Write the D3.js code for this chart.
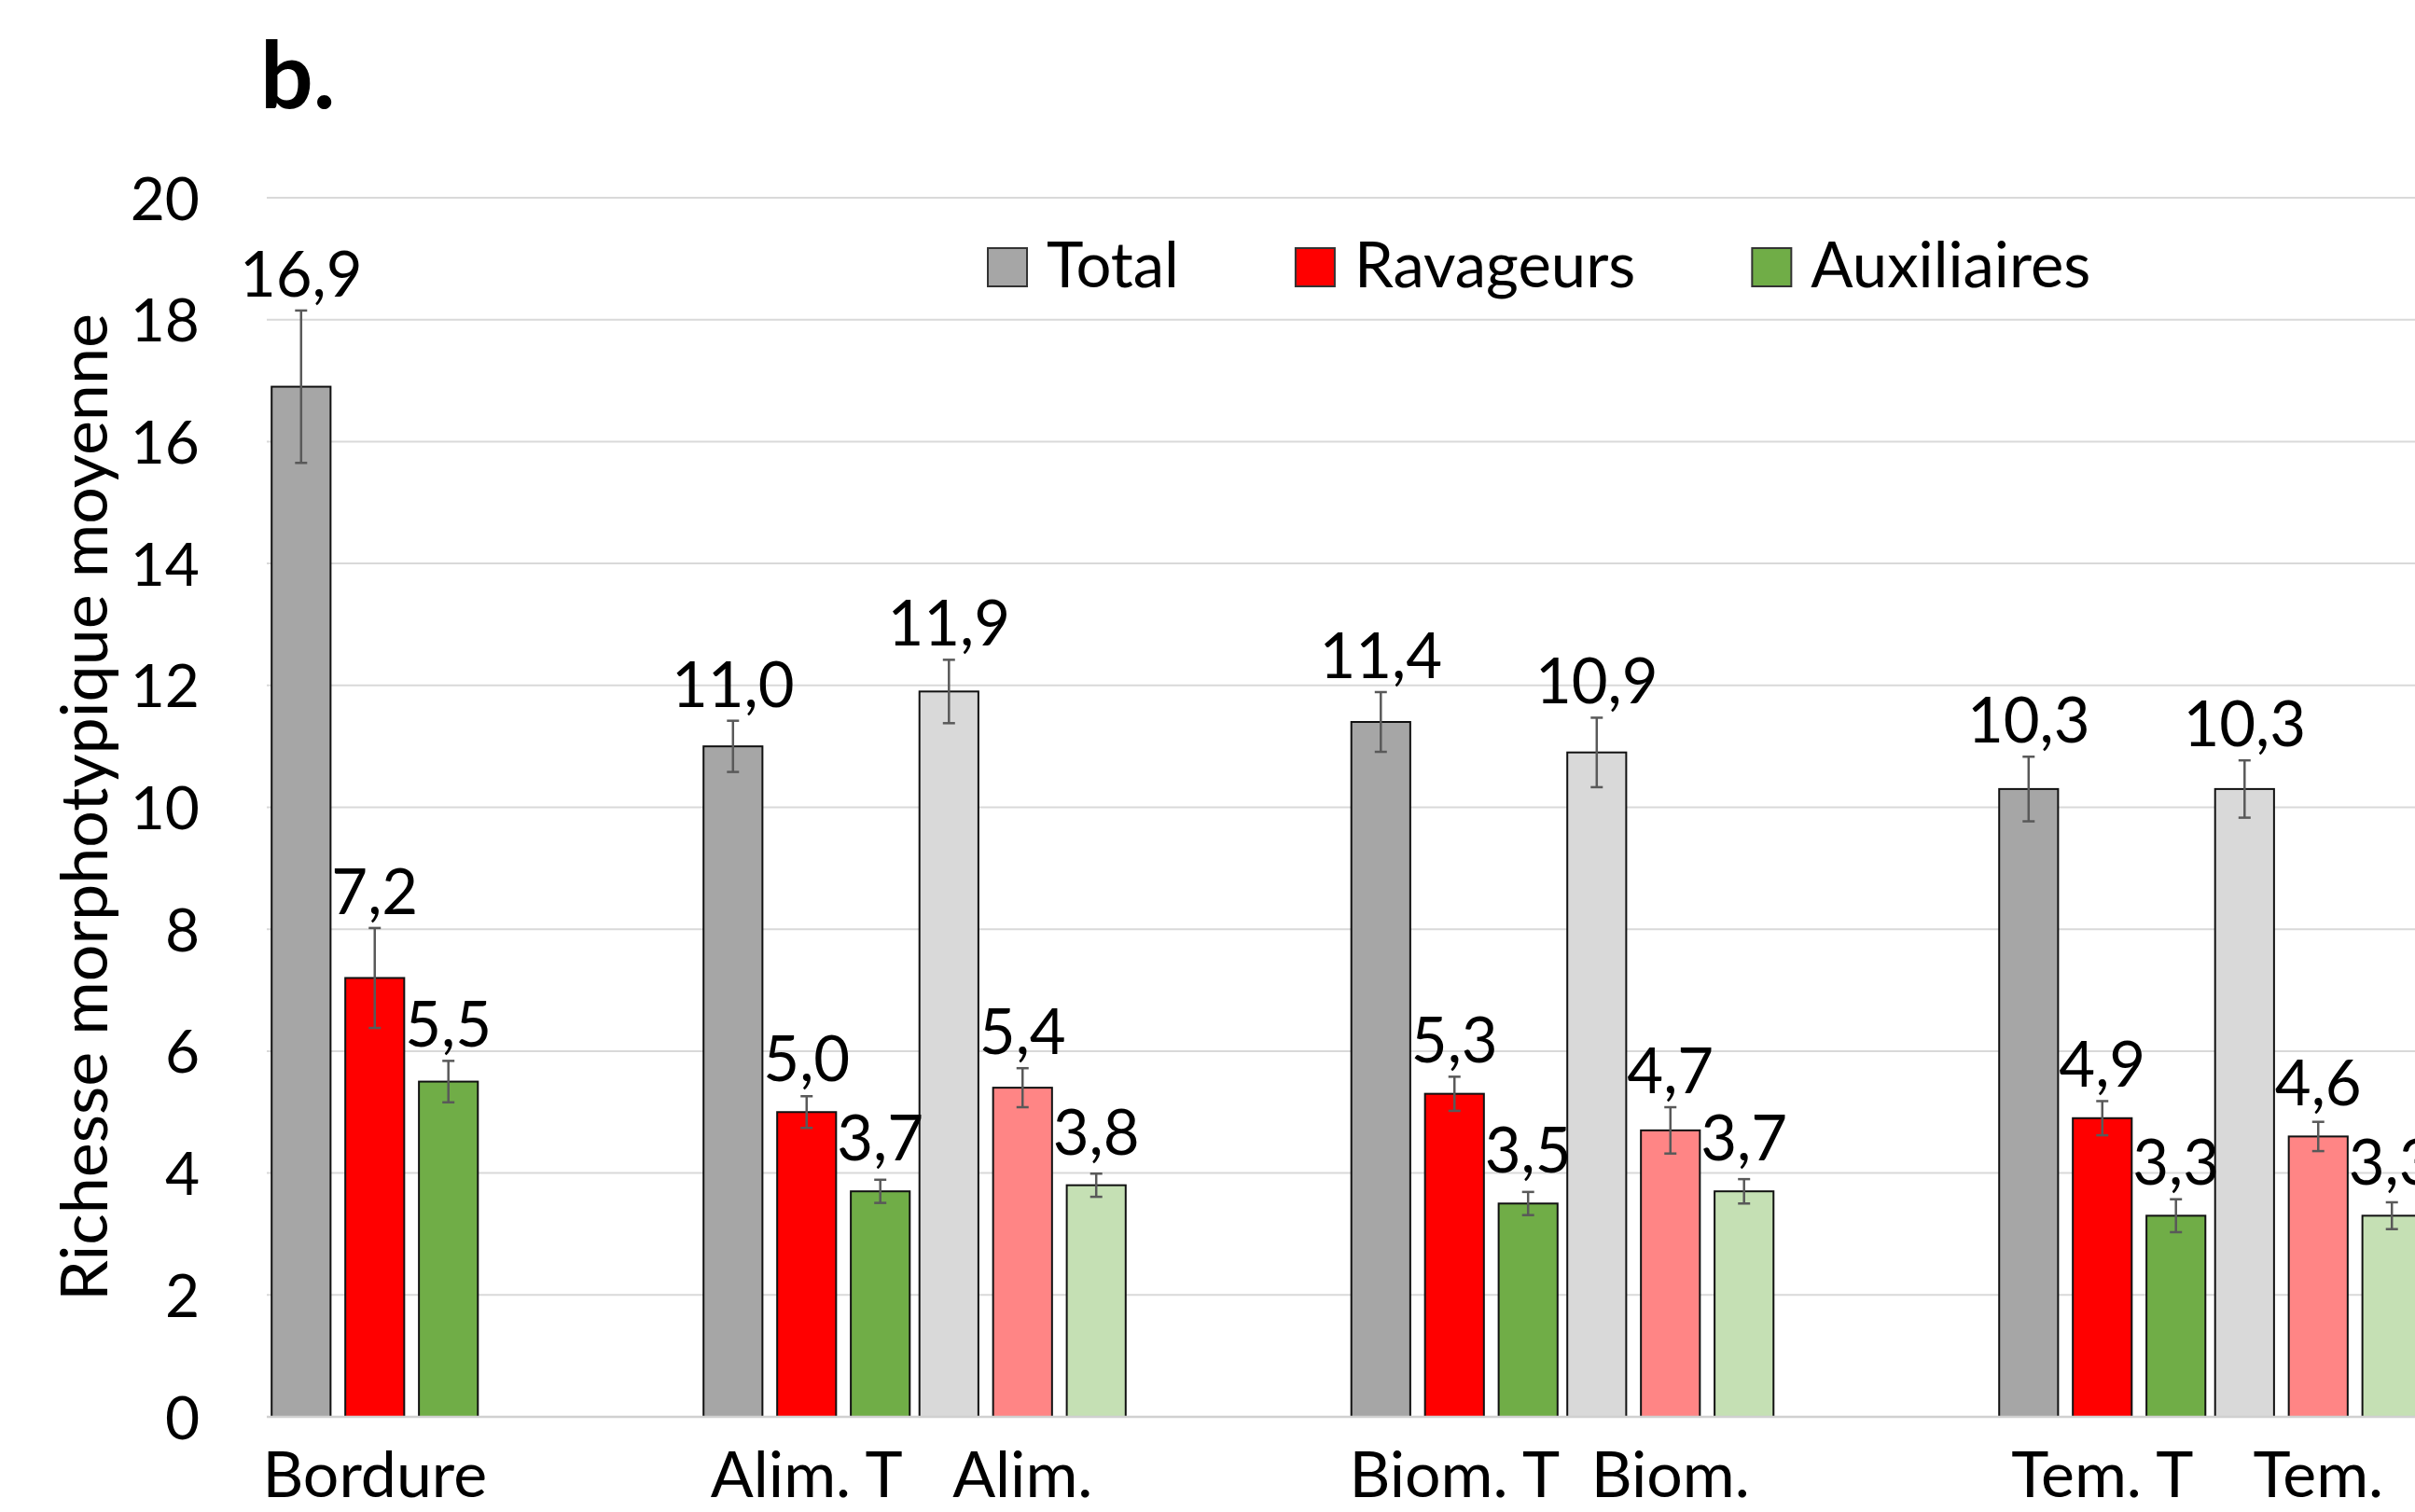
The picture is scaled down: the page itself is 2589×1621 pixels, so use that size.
<!DOCTYPE html>
<html>
<head>
<meta charset="utf-8">
<script src="https://cdn.jsdelivr.net/npm/d3@7"></script>
<style>
  body { margin: 0; background: #fff; }
  svg { display: block; font-family: Lato, "Open Sans", sans-serif; }
</style>
</head>
<body>
<div id="chart"></div>
<script>
var categories = ["Bordure", "Alim. T", "Alim.", "Biom. T", "Biom.", "Tem. T", "Tem."];
// x slots, the "_" ones are empty spacers between groups
var slots = ["Bordure", "_1", "Alim. T", "Alim.", "_2", "Biom. T", "Biom.", "_3", "Tem. T", "Tem."];
var paleCategories = ["Alim.", "Biom.", "Tem."];
var seriesNames = ["Total", "Ravageurs", "Auxiliaires"];

var totalValues = [16.9, 11.0, 11.9, 11.4, 10.9, 10.3, 10.3];
var totalErrors = [1.25, 0.42, 0.52, 0.49, 0.57, 0.53, 0.47];
var ravageursValues = [7.2, 5.0, 5.4, 5.3, 4.7, 4.9, 4.6];
var ravageursErrors = [0.82, 0.26, 0.32, 0.28, 0.38, 0.28, 0.24];
var auxiliairesValues = [5.5, 3.7, 3.8, 3.5, 3.7, 3.3, 3.3];
var auxiliairesErrors = [0.34, 0.19, 0.19, 0.19, 0.20, 0.27, 0.22];

var yTicks = [0, 2, 4, 6, 8, 10, 12, 14, 16, 18, 20];

var seriesColor = {"Total": "#a6a6a6", "Ravageurs": "#ff0000", "Auxiliaires": "#70ad47"};
var paleColor = {"Total": "#d9d9d9", "Ravageurs": "#ff8585", "Auxiliaires": "#c5e0b4"};

var width = 2589, height = 1621;
var plot = {left: 286, right: 2601, top: 212, bottom: 1519};

var frFormat = d3.formatLocale({decimal: ",", thousands: " ", grouping: [3], currency: ["", " €"]}).format(".1f");

var bars = [];
var valuesBySeries = [totalValues, ravageursValues, auxiliairesValues];
var errorsBySeries = [totalErrors, ravageursErrors, auxiliairesErrors];
categories.forEach(function (c, i) {
    seriesNames.forEach(function (s, j) {
        bars.push({category: c, series: s, value: valuesBySeries[j][i], error: errorsBySeries[j][i],
                   pale: paleCategories.indexOf(c) >= 0});
    });
});

var svg = d3.select("#chart")
    .append("svg")
    .attr("width", width)
    .attr("height", height);

var x = d3.scaleBand()
    .domain(slots)
    .range([plot.left, plot.right])
    .padding(0);

var xSub = d3.scaleBand()
    .domain(seriesNames)
    .range([0, x.bandwidth()])
    .paddingInner(0.2)
    .paddingOuter(0.066);

var y = d3.scaleLinear()
    .domain([0, 20])
    .range([plot.bottom, plot.top]);

// gridlines
svg.append("g")
    .selectAll("line")
    .data(yTicks)
    .enter()
    .append("line")
    .attr("x1", plot.left)
    .attr("x2", plot.right)
    .attr("y1", function (d) {return y(d);})
    .attr("y2", function (d) {return y(d);})
    .attr("stroke", "#d9d9d9")
    .attr("stroke-width", 2);

// y axis labels
var yAxis = svg.append("g")
    .attr("transform", "translate(214,0)")
    .call(d3.axisLeft(y).tickValues(yTicks).tickSize(0).tickPadding(0));
yAxis.select(".domain").remove();
yAxis.selectAll("text")
    .attr("font-family", "Lato, sans-serif")
    .attr("font-size", 64)
    .attr("fill", "#000")
    .attr("dy", "0.36em");

// x axis labels
var xAxis = svg.append("g")
    .attr("transform", "translate(0," + plot.bottom + ")")
    .call(d3.axisBottom(x).tickSize(0).tickPadding(0)
        .tickFormat(function (d) {return d.charAt(0) === "_" ? "" : d;}));
xAxis.select(".domain").remove();
xAxis.selectAll("text")
    .attr("font-family", "Lato, sans-serif")
    .attr("font-size", 68)
    .attr("fill", "#000")
    .attr("dy", null)
    .attr("y", 86);

// bars
svg.append("g")
    .selectAll("rect")
    .data(bars)
    .enter()
    .append("rect")
    .attr("x", function (d) {return x(d.category) + xSub(d.series);})
    .attr("y", function (d) {return y(d.value);})
    .attr("width", xSub.bandwidth())
    .attr("height", function (d) {return y(0) - y(d.value);})
    .attr("fill", function (d) {return d.pale ? paleColor[d.series] : seriesColor[d.series];})
    .attr("stroke", "#111")
    .attr("stroke-width", 2);

// baseline over the bar bottoms
svg.append("line")
    .attr("x1", plot.left)
    .attr("x2", plot.right)
    .attr("y1", y(0))
    .attr("y2", y(0))
    .attr("stroke", "#d0d0d0")
    .attr("stroke-width", 2.5);

// error bars
var err = svg.append("g")
    .attr("stroke", "#595959")
    .attr("stroke-width", 2.5)
    .selectAll("g")
    .data(bars)
    .enter()
    .append("g")
    .attr("transform", function (d) {return "translate(" + (x(d.category) + xSub(d.series) + xSub.bandwidth() / 2) + ",0)";});
err.append("line")
    .attr("y1", function (d) {return y(d.value + d.error);})
    .attr("y2", function (d) {return y(d.value - d.error);});
err.append("line")
    .attr("x1", -6.5).attr("x2", 6.5)
    .attr("y1", function (d) {return y(d.value + d.error);})
    .attr("y2", function (d) {return y(d.value + d.error);});
err.append("line")
    .attr("x1", -6.5).attr("x2", 6.5)
    .attr("y1", function (d) {return y(d.value - d.error);})
    .attr("y2", function (d) {return y(d.value - d.error);});

// data labels
svg.append("g")
    .selectAll("text")
    .data(bars)
    .enter()
    .append("text")
    .attr("x", function (d) {return x(d.category) + xSub(d.series) + xSub.bandwidth() / 2;})
    .attr("y", function (d) {return Math.min(y(d.value) - 33, y(d.value + d.error) - 15);})
    .attr("text-anchor", "middle")
    .attr("font-size", 67)
    .attr("fill", "#000")
    .text(function (d) {return frFormat(d.value);});

// y axis title
svg.append("text")
    .attr("transform", "translate(115," + ((plot.top + plot.bottom) / 2) + ") rotate(-90)")
    .attr("text-anchor", "middle")
    .attr("font-size", 70)
    .attr("fill", "#000")
    .text("Richesse morphotypique moyenne");

// panel letter
svg.append("text")
    .attr("x", 279)
    .attr("y", 116)
    .attr("font-size", 100)
    .attr("font-weight", "bold")
    .attr("fill", "#000")
    .text("b.");

// legend
var legend = svg.append("g").attr("transform", "translate(1059,266)");
var lx = 0;
seriesNames.forEach(function (s) {
    var item = legend.append("g").attr("transform", "translate(" + lx + ",0)");
    item.append("rect")
        .attr("width", 42)
        .attr("height", 41)
        .attr("fill", seriesColor[s])
        .attr("stroke", "#333")
        .attr("stroke-width", 2);
    var t = item.append("text")
        .attr("x", 63)
        .attr("y", 42)
        .attr("font-size", 67)
        .attr("fill", "#000")
        .text(s);
    lx += 63 + t.node().getComputedTextLength() + 125;
});
</script>
</body>
</html>
